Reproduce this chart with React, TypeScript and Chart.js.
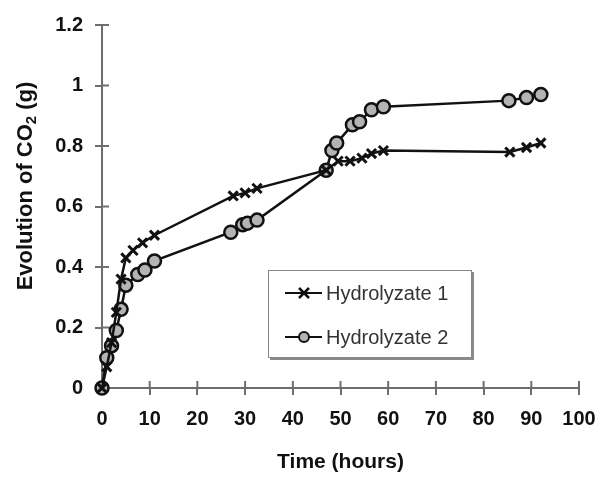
import React, { useEffect, useRef } from "react";
import { Chart, registerables } from "chart.js";
Chart.register(...registerables);

const seriesNames = ["Hydrolyzate 1", "Hydrolyzate 2"];
const h1Time = [0, 1, 2, 3, 4, 5, 6.5, 8.5, 11, 27.5, 30, 32.5, 47, 49.5, 52, 54.5, 56.5, 59, 85.5, 89, 92];
const h1CO2 = [0, 0.07, 0.15, 0.25, 0.36, 0.43, 0.455, 0.48, 0.505, 0.635, 0.645, 0.66, 0.72, 0.75, 0.75, 0.76, 0.775, 0.785, 0.78, 0.795, 0.81];
const h2Time = [0, 1, 2, 3, 4, 5, 7.5, 9, 11, 27, 29.5, 30.5, 32.5, 47, 48.2, 49.2, 52.5, 54, 56.5, 59, 85.3, 89, 92];
const h2CO2 = [0, 0.1, 0.14, 0.19, 0.26, 0.34, 0.375, 0.39, 0.42, 0.515, 0.54, 0.545, 0.555, 0.72, 0.785, 0.81, 0.87, 0.88, 0.92, 0.93, 0.95, 0.96, 0.97];
const xTitle = "Time (hours)";
const yTitleParts = ["Evolution of CO", "2", " (g)"];
const xRange = [0, 100, 10];
const yRange = [0, 1.2, 0.2];

const FONT = "'Liberation Sans', Arial, sans-serif";
const AXIS = "#6e6e6e";

const crossTicks = {
  id: "crossTicks",
  beforeDatasetsDraw(chart: any) {
    const { ctx, chartArea, scales } = chart;
    ctx.save();
    ctx.strokeStyle = AXIS;
    ctx.lineWidth = 2;
    scales.x.ticks.forEach((t: any) => {
      const px = scales.x.getPixelForValue(t.value);
      ctx.beginPath();
      ctx.moveTo(px, chartArea.bottom);
      ctx.lineTo(px, chartArea.bottom - 7);
      ctx.stroke();
    });
    scales.y.ticks.forEach((t: any) => {
      const py = scales.y.getPixelForValue(t.value);
      ctx.beginPath();
      ctx.moveTo(chartArea.left, py);
      ctx.lineTo(chartArea.left + 7, py);
      ctx.stroke();
    });
    ctx.restore();
  },
  afterDraw(chart: any) {
    const { ctx } = chart;
    // y axis title with subscript
    ctx.save();
    ctx.translate(26, 186);
    ctx.rotate(-Math.PI / 2);
    ctx.fillStyle = "#111";
    ctx.textBaseline = "middle";
    const big = `bold 22px ${FONT}`;
    const small = `bold 15px ${FONT}`;
    ctx.font = big;
    const w0 = ctx.measureText(yTitleParts[0]).width;
    const w2 = ctx.measureText(yTitleParts[2]).width;
    ctx.font = small;
    const w1 = ctx.measureText(yTitleParts[1]).width;
    let x = -(w0 + w1 + w2) / 2;
    ctx.font = big;
    ctx.textAlign = "left";
    ctx.fillText(yTitleParts[0], x, 0);
    x += w0;
    ctx.font = small;
    ctx.fillText(yTitleParts[1], x, 6);
    x += w1;
    ctx.font = big;
    ctx.fillText(yTitleParts[2], x, 0);
    ctx.restore();

    // legend box
    const lx = 268, ly = 270, lw = 204, lh = 88;
    ctx.save();
    ctx.fillStyle = "#8a8a8a";
    ctx.fillRect(lx + 2, ly + 2, lw, lh);
    ctx.fillStyle = "#fff";
    ctx.fillRect(lx, ly, lw, lh);
    ctx.strokeStyle = "#888";
    ctx.lineWidth = 1;
    ctx.strokeRect(lx + 0.5, ly + 0.5, lw - 1, lh - 1);
    chart.data.datasets.forEach((ds: any, i: number) => {
      const cy = 293 + i * 44;
      ctx.strokeStyle = "#111";
      ctx.lineWidth = 2;
      ctx.beginPath();
      ctx.moveTo(285, cy);
      ctx.lineTo(322, cy);
      ctx.stroke();
      const mx = 304;
      if (ds.pointStyle === "crossRot") {
        ctx.lineWidth = 2.5;
        ctx.beginPath();
        ctx.moveTo(mx - 5, cy - 5);
        ctx.lineTo(mx + 5, cy + 5);
        ctx.moveTo(mx - 5, cy + 5);
        ctx.lineTo(mx + 5, cy - 5);
        ctx.stroke();
      } else {
        ctx.fillStyle = ds.pointBackgroundColor;
        ctx.beginPath();
        ctx.arc(mx, cy, 5, 0, Math.PI * 2);
        ctx.fill();
        ctx.stroke();
      }
      ctx.fillStyle = "#333";
      ctx.font = `20px ${FONT}`;
      ctx.textAlign = "left";
      ctx.textBaseline = "middle";
      ctx.fillText(ds.label, 326, cy + 1);
    });
    ctx.restore();
  },
};

export default function App() {
  const ref = useRef<HTMLCanvasElement | null>(null);
  useEffect(() => {
    if (!ref.current) return;
    const chart = new Chart(ref.current, {
      type: "line",
      data: {
        datasets: [
          {
            label: seriesNames[0],
            data: h1Time.map((t, i) => ({ x: t, y: h1CO2[i] })),
            borderColor: "#111",
            borderWidth: 2.5,
            pointStyle: "crossRot",
            pointRadius: 6.5,
            pointBorderWidth: 3,
            pointBorderColor: "#111",
            pointBackgroundColor: "#111",
            clip: false,
          } as any,
          {
            label: seriesNames[1],
            data: h2Time.map((t, i) => ({ x: t, y: h2CO2[i] })),
            borderColor: "#111",
            borderWidth: 2.5,
            pointStyle: "circle",
            pointRadius: 6.5,
            pointBorderWidth: 2.5,
            pointBorderColor: "#111",
            pointBackgroundColor: "#b4b4b4",
            clip: false,
          } as any,
        ],
      },
      options: {
        animation: false,
        responsive: false,
        layout: { padding: { top: 25, right: 36, left: 0, bottom: 0 } },
        plugins: { legend: { display: false }, tooltip: { enabled: false } },
        scales: {
          x: {
            type: "linear",
            min: xRange[0],
            max: xRange[1],
            ticks: { stepSize: xRange[2], padding: 12, color: "#111", font: { family: FONT, size: 20, weight: "bold" } },
            grid: { drawOnChartArea: false, tickLength: 7, color: AXIS, lineWidth: 2 },
            border: { color: AXIS, width: 2 },
            title: { display: true, text: xTitle, color: "#111", font: { family: FONT, size: 21, weight: "bold" }, padding: { top: 0, bottom: 5 } },
            afterFit: (s: any) => { s.height = 92; },
          },
          y: {
            type: "linear",
            min: yRange[0],
            max: yRange[1],
            ticks: {
              stepSize: yRange[2],
              padding: 12,
              color: "#111",
              font: { family: FONT, size: 20, weight: "bold" },
              callback: (v: any) => String(Number(Number(v).toFixed(1))),
            },
            grid: { drawOnChartArea: false, tickLength: 7, color: AXIS, lineWidth: 2 },
            border: { color: AXIS, width: 2 },
            afterFit: (s: any) => { s.width = 102; },
          },
        },
      } as any,
      plugins: [crossTicks],
    });
    return () => chart.destroy();
  }, []);
  return (
    <div style={{ position: "fixed", left: 0, top: 0, width: 615, height: 480, background: "#fff" }}>
      <canvas ref={ref} width={615} height={480} style={{ width: 615, height: 480 }} />
    </div>
  );
}
